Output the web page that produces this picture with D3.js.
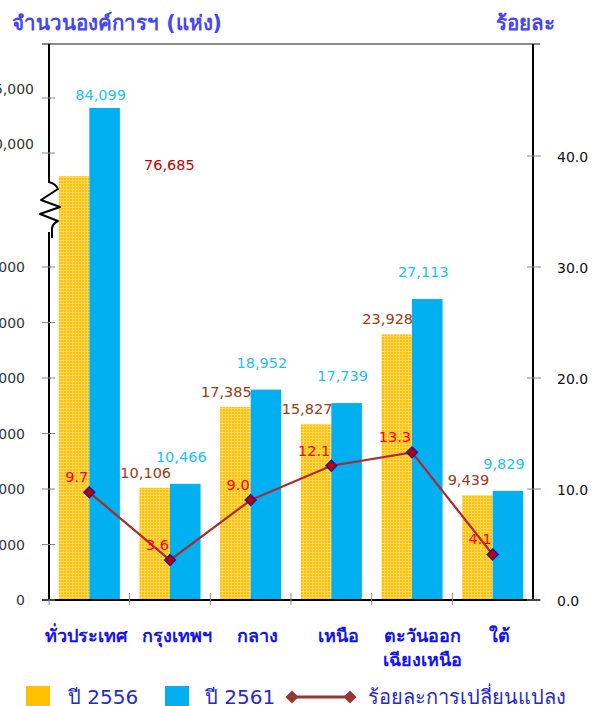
<!DOCTYPE html>
<html><head><meta charset="utf-8">
<script src="https://cdn.jsdelivr.net/npm/d3@7"></script>
<style>
html,body{margin:0;padding:0;background:#fff;}
svg{display:block;font-family:Tahoma,"DejaVu Sans",sans-serif;}
</style></head>
<body>
<svg id="c" width="598" height="706"></svg>
<script>
const categories = ["ทั่วประเทศ","กรุงเทพฯ","กลาง","เหนือ","ตะวันออก\nเฉียงเหนือ","ใต้"];
const values2556 = [76685,10106,17385,15827,23928,9439];
const values2561 = [84099,10466,18952,17739,27113,9829];
const pctChange = [9.7,3.6,9.0,12.1,13.3,4.1];
const leftTicksLow = [0,5000,10000,15000,20000,25000,30000];
const leftTicksHigh = [80000,85000];
const rightTicks = [0,10,20,30,40];
const seriesNames = ["ปี 2556","ปี 2561","ร้อยละการเปลี่ยนแปลง"];
const leftTitle = "จำนวนองค์การฯ (แห่ง)";
const rightTitle = "ร้อยละ";

const svg = d3.select("#c");
const L = 49, R = 533, T = 44, B = 600;

// broken left scale (axis break between 30,000 and 80,000)
const yL = d3.scaleLinear().domain([0,30000,74000,80000,85000]).range([B,267,195,153,98]);
const yR = d3.scaleLinear().domain([0,50]).range([B,T+1]);
const x = d3.scaleBand().domain(categories).range([L,R]);
const xs = d3.scaleBand().domain(["a","b"]).range([0,x.bandwidth()]).paddingOuter(0.32);

// pattern for orange bars
const defs = svg.append("defs");
const pat = defs.append("pattern").attr("id","og").attr("width",3).attr("height",3).attr("patternUnits","userSpaceOnUse");
pat.append("rect").attr("width",3).attr("height",3).attr("fill","#FFC000");
pat.append("rect").attr("width",3).attr("height",1).attr("fill","#FFD65C");
pat.append("rect").attr("width",1).attr("height",3).attr("fill","#FFD65C");

// top border
svg.append("line").attr("x1",42).attr("x2",540).attr("y1",T).attr("y2",T).attr("stroke","#8a8a8a").attr("stroke-width",2);

// bars
const g = svg.append("g");
g.selectAll(".b1").data(values2556).join("rect")
  .attr("x",(d,i)=>x(categories[i])+xs("a")).attr("width",xs.bandwidth())
  .attr("y",d=>yL(d)).attr("height",d=>B-yL(d)).attr("fill","url(#og)");
g.selectAll(".b2").data(values2561).join("rect")
  .attr("x",(d,i)=>x(categories[i])+xs("b")).attr("width",xs.bandwidth())
  .attr("y",d=>yL(d)).attr("height",d=>B-yL(d)).attr("fill","#00B0F0");

// x axis
svg.append("line").attr("x1",42).attr("x2",540).attr("y1",B).attr("y2",B).attr("stroke","#000").attr("stroke-width",2);
const bounds = categories.map(c=>x(c)).concat([R]);
svg.selectAll(".xt").data(bounds.slice(1,-1)).join("line")
  .attr("x1",d=>d).attr("x2",d=>d).attr("y1",B-7).attr("y2",B+5).attr("stroke","#888").attr("stroke-width",1);
svg.append("line").attr("x1",L).attr("x2",L).attr("y1",B).attr("y2",B+5).attr("stroke","#888");

// left axis (with break)
svg.append("line").attr("x1",L).attr("x2",L).attr("y1",T).attr("y2",183).attr("stroke","#000").attr("stroke-width",2);
svg.append("line").attr("x1",L).attr("x2",L).attr("y1",232).attr("y2",B).attr("stroke","#000").attr("stroke-width",2);
svg.append("path").attr("d","M49,182 Q56,184 58,189 L41,200 L60,207 L40,214 L58,221 Q51,224 52,232 L52,238")
  .attr("fill","none").attr("stroke","#000").attr("stroke-width",2).attr("stroke-linejoin","round");

const fmt = d3.format(",");
svg.selectAll(".ltl").data(leftTicksLow).join("line")
  .attr("x1",42).attr("x2",55).attr("y1",d=>yL(d)).attr("y2",d=>yL(d)).attr("stroke","#888");
svg.selectAll(".ltlt").data(leftTicksLow).join("text")
  .attr("x",25).attr("y",d=>yL(d)+5).attr("text-anchor","end").attr("font-size",14).attr("fill","#333").text(d=>fmt(d));
svg.selectAll(".lth").data(leftTicksHigh).join("line")
  .attr("x1",42).attr("x2",55).attr("y1",d=>yL(d)).attr("y2",d=>yL(d)).attr("stroke","#888");
svg.selectAll(".ltht").data(leftTicksHigh).join("text")
  .attr("x",34).attr("y",d=>yL(d)-4).attr("text-anchor","end").attr("font-size",14).attr("fill","#333").text(d=>fmt(d));

// right axis
svg.append("line").attr("x1",R).attr("x2",R).attr("y1",T).attr("y2",B).attr("stroke","#000").attr("stroke-width",2);
svg.selectAll(".rt").data(rightTicks).join("line")
  .attr("x1",527).attr("x2",541).attr("y1",d=>yR(d)).attr("y2",d=>yR(d)).attr("stroke","#888");
svg.selectAll(".rtt").data(rightTicks).join("text")
  .attr("x",557).attr("y",d=>yR(d)+6).attr("font-size",14).attr("fill","#111").text(d=>d.toFixed(1));

// titles
svg.append("text").attr("x",12).attr("y",30).attr("font-size",20.5).attr("font-weight","bold").attr("fill","#4646F0").text(leftTitle);
svg.append("text").attr("x",496).attr("y",30).attr("font-size",20.5).attr("font-weight","bold").attr("fill","#4646F0").text(rightTitle);

// value labels
values2556.forEach((d,i)=>{
  const cx = x(categories[i])+xs("a")+xs.bandwidth()/2;
  if(i===0){
    svg.append("text").attr("x",x(categories[i])+x.bandwidth()/2+80).attr("y",yL(d)-6)
      .attr("text-anchor","middle").attr("font-size",14.5).attr("fill","#C00000").text(fmt(d));
  } else {
    svg.append("text").attr("x",cx-9).attr("y",yL(d)-10)
      .attr("text-anchor","middle").attr("font-size",14.5).attr("fill","#9A3B12").text(fmt(d));
  }
});
values2561.forEach((d,i)=>{
  const cx = x(categories[i])+xs("b")+xs.bandwidth()/2;
  const gap = i===0 ? 8 : 22;
  svg.append("text").attr("x",cx-4).attr("y",yL(d)-gap)
    .attr("text-anchor","middle").attr("font-size",14.5).attr("fill","#18C4F8").text(fmt(d));
});

// line series
const pts = pctChange.map((d,i)=>[x(categories[i])+x.bandwidth()/2, yR(d)]);
svg.append("path").attr("d",d3.line()(pts)).attr("fill","none").attr("stroke","#B02828").attr("stroke-width",2.2);
const diamond = d3.symbol().type(d3.symbolDiamond2).size(75);
svg.selectAll(".mk").data(pts).join("path").attr("d",diamond)
  .attr("transform",d=>`translate(${d[0]},${d[1]})`).attr("fill","#C00000").attr("stroke","#1C1C9C").attr("stroke-width",1.5);
pctChange.forEach((d,i)=>{
  svg.append("text").attr("x",pts[i][0]-1).attr("y",pts[i][1]-10).attr("text-anchor","end")
    .attr("font-size",14.5).attr("fill","#FF0000").text(d.toFixed(1));
});

// category labels
categories.forEach((c,i)=>{
  const multi = c.includes("\n");
  const cx = x(c)+x.bandwidth()/2+(i===0 ? -3 : (multi?10:7));
  const t = svg.append("text").attr("x",cx).attr("y",642).attr("text-anchor","middle")
    .attr("font-size",18).attr("font-weight","bold").attr("fill","#1414F0");
  c.split("\n").forEach((ln,j)=>t.append("tspan").attr("x",cx).attr("dy",j?24:0).text(ln));
});

// legend
const lg = svg.append("g").attr("font-size",20).attr("fill","#2828C8");
lg.append("rect").attr("x",26).attr("y",686).attr("width",24).attr("height",20).attr("fill","#FFC000");
lg.append("text").attr("x",68).attr("y",704).text(seriesNames[0]);
lg.append("rect").attr("x",165).attr("y",686).attr("width",24).attr("height",20).attr("fill","#00B0F0");
lg.append("text").attr("x",205).attr("y",704).text(seriesNames[1]);
lg.append("line").attr("x1",292).attr("x2",350).attr("y1",697).attr("y2",697).attr("stroke","#953735").attr("stroke-width",3);
[292,350].forEach(px=>lg.append("path").attr("d",d3.symbol().type(d3.symbolDiamond2).size(110)())
  .attr("transform",`translate(${px},697)`).attr("fill","#953735"));
lg.append("text").attr("x",368).attr("y",704).text(seriesNames[2]);
</script>
</body></html>
